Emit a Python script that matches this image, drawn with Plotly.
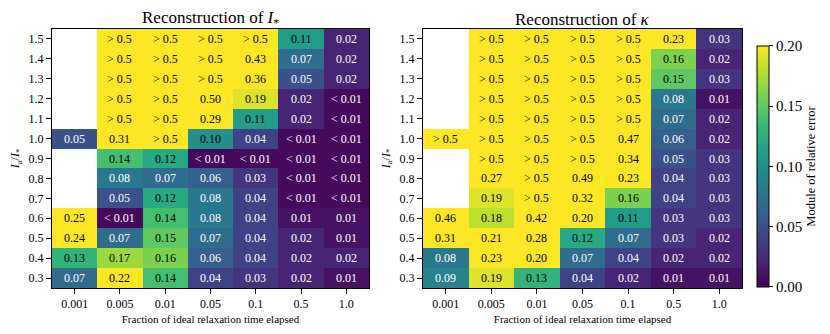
import plotly.graph_objects as go

# categorias dos eixos
tempos = ["0.001", "0.005", "0.01", "0.05", "0.1", "0.5", "1.0"]
razoes = ["0.3", "0.4", "0.5", "0.6", "0.7", "0.8", "0.9", "1.0", "1.1", "1.2", "1.3", "1.4", "1.5"]

ACIMA = 0.51    # celulas marcadas "> 0.5"
ABAIXO = 0.005  # celulas marcadas "< 0.01"
N = None        # sem dado

# erro relativo na reconstrucao de I_* (linhas de 0.3 ate 1.5)
erro_I = [
    [0.07, 0.22, 0.14, 0.04, 0.03, 0.02, 0.01],
    [0.13, 0.17, 0.16, 0.06, 0.04, 0.02, 0.02],
    [0.24, 0.07, 0.15, 0.07, 0.04, 0.02, 0.01],
    [0.25, ABAIXO, 0.14, 0.08, 0.04, 0.01, 0.01],
    [N, 0.05, 0.12, 0.08, 0.04, ABAIXO, ABAIXO],
    [N, 0.08, 0.07, 0.06, 0.03, ABAIXO, ABAIXO],
    [N, 0.14, 0.12, ABAIXO, ABAIXO, ABAIXO, ABAIXO],
    [0.05, 0.31, ACIMA, 0.10, 0.04, ABAIXO, ABAIXO],
    [N, ACIMA, ACIMA, 0.29, 0.11, 0.02, ABAIXO],
    [N, ACIMA, ACIMA, 0.50, 0.19, 0.02, ABAIXO],
    [N, ACIMA, ACIMA, ACIMA, 0.36, 0.05, 0.02],
    [N, ACIMA, ACIMA, ACIMA, 0.43, 0.07, 0.02],
    [N, ACIMA, ACIMA, ACIMA, ACIMA, 0.11, 0.02],
]

# erro relativo na reconstrucao de kappa
erro_kappa = [
    [0.09, 0.19, 0.13, 0.04, 0.02, 0.01, 0.01],
    [0.08, 0.23, 0.20, 0.07, 0.04, 0.02, 0.02],
    [0.31, 0.21, 0.28, 0.12, 0.07, 0.03, 0.02],
    [0.46, 0.18, 0.42, 0.20, 0.11, 0.03, 0.03],
    [N, 0.19, ACIMA, 0.32, 0.16, 0.04, 0.03],
    [N, 0.27, ACIMA, 0.49, 0.23, 0.04, 0.03],
    [N, ACIMA, ACIMA, ACIMA, 0.34, 0.05, 0.03],
    [ACIMA, ACIMA, ACIMA, ACIMA, 0.47, 0.06, 0.02],
    [N, ACIMA, ACIMA, ACIMA, ACIMA, 0.07, 0.02],
    [N, ACIMA, ACIMA, ACIMA, ACIMA, 0.08, 0.01],
    [N, ACIMA, ACIMA, ACIMA, ACIMA, 0.15, 0.03],
    [N, ACIMA, ACIMA, ACIMA, ACIMA, 0.16, 0.02],
    [N, ACIMA, ACIMA, ACIMA, ACIMA, 0.23, 0.03],
]

FONTE = "Liberation Serif"


def rotulo(v):
    if v > 0.5:
        return "&gt; 0.5"
    if v < 0.01:
        return "&lt; 0.01"
    return f"{v:.2f}"


fig = go.Figure()
anotacoes = []
for k, (dados, sufixo) in enumerate([(erro_I, ""), (erro_kappa, "2")]):
    fig.add_trace(go.Heatmap(
        x=tempos, y=razoes, z=dados,
        xaxis="x" + sufixo, yaxis="y" + sufixo,
        colorscale="Viridis", zmin=0, zmax=0.2,
        showscale=(k == 1), hoverongaps=False,
        colorbar=dict(
            x=1.0222, xanchor="left", xpad=0, ypad=0,
            y=0.004, yanchor="bottom", len=0.932, lenmode="fraction",
            thickness=12, outlinecolor="black", outlinewidth=1,
            tickvals=[0, 0.05, 0.1, 0.15, 0.2], ticktext=["0.00", "0.05", "0.10", "0.15", "0.20"],
            ticks="outside", ticklen=4, tickcolor="black",
            tickfont=dict(family=FONTE, size=15, color="black"),
            title=dict(text="Module of relative error", side="right",
                       font=dict(family=FONTE, size=12.5, color="black")),
        ),
    ))
    # rotulos das celulas: no eixo de categorias usa o indice
    for i, linha in enumerate(dados):
        for j, v in enumerate(linha):
            if v is None:
                continue
            anotacoes.append(dict(
                x=j, y=i, xref="x" + sufixo, yref="y" + sufixo,
                text=rotulo(v), showarrow=False,
                font=dict(family=FONTE, size=12, color="white" if v < 0.095 else "black"),
            ))

eixo = dict(type="category", automargin=False, showline=True, mirror=True, linecolor="black", linewidth=1,
            ticks="outside", ticklen=5, tickcolor="black", showgrid=False, zeroline=False,
            tickfont=dict(family=FONTE, size=12, color="black"))
titulo_x = dict(text="Fraction of ideal relaxation time elapsed", font=dict(family=FONTE, size=11, color="black"), standoff=4)
titulo_y = dict(text="<i>I</i><sub>a</sub>/<i>I</i><sub>*</sub>", font=dict(family=FONTE, size=12, color="black"), standoff=6)

fig.update_layout(
    width=830, height=334,
    margin=dict(l=44, r=96, t=21, b=54),
    plot_bgcolor="white", paper_bgcolor="white",
    xaxis=dict(eixo, domain=[0, 0.4594], title=titulo_x),
    yaxis=dict(eixo, title=titulo_y),
    xaxis2=dict(eixo, domain=[0.5377, 1], anchor="y2", title=titulo_x),
    yaxis2=dict(eixo, anchor="x2", title=titulo_y),
    annotations=anotacoes + [
        dict(text="Reconstruction of <i>I</i><sub>*</sub>", xref="paper", yref="paper",
             x=0.2297, y=1.0, xanchor="center", yanchor="bottom", yshift=-3, showarrow=False,
             font=dict(family=FONTE, size=17, color="black")),
        dict(text="Reconstruction of <i>κ</i>", xref="paper", yref="paper",
             x=0.7689, y=1.0, xanchor="center", yanchor="bottom", yshift=-2, showarrow=False,
             font=dict(family=FONTE, size=17, color="black")),
    ],
)

fig.write_html("out.html")
